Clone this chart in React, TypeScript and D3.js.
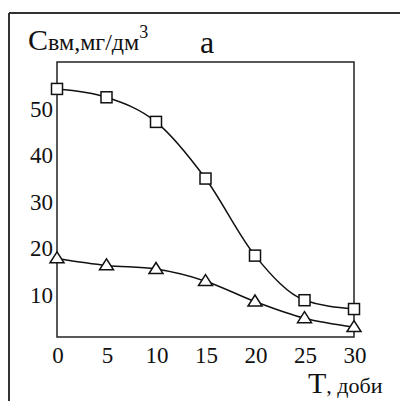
import React from "react";
import * as d3 from "d3";

const days = [0, 5, 10, 15, 20, 25, 30];
const squareSeries = [54.5, 52.7, 47.4, 35.2, 18.6, 9.0, 7.1];
const triangleSeries = [18.0, 16.5, 15.7, 13.1, 8.7, 5.1, 3.2];
const xTicks = [0, 5, 10, 15, 20, 25, 30];
const yTicks = [10, 20, 30, 40, 50];

const FONT = "'Liberation Serif', 'Times New Roman', serif";

export default function App() {
  const left = 57, right = 354, top = 62, bottom = 337;
  const x = d3.scaleLinear().domain([0, 30]).range([left, right]);
  const y = d3.scaleLinear().domain([0, 60.3]).range([342, top]);

  const line = d3
    .line<number>()
    .x((_, i) => x(days[i]))
    .y((d) => y(d))
    .curve(d3.curveMonotoneX);

  const sq = 11;
  const triW = 14, triH = 11;

  return (
    <svg
      width={400}
      height={401}
      style={{ position: "absolute", left: 0, top: 0 }}
    >
      <rect x={0} y={0} width={400} height={401} fill="#fff" />
      {/* outer frame */}
      <line x1={9} y1={13} x2={400} y2={13} stroke="#333" strokeWidth={2} />
      <line x1={9} y1={13} x2={9} y2={401} stroke="#333" strokeWidth={2} />

      {/* plot frame */}
      <rect
        x={left}
        y={top}
        width={right - left}
        height={bottom - top}
        fill="none"
        stroke="#222"
        strokeWidth={1.5}
      />

      {/* y tick labels */}
      {yTicks.map((t) => (
        <text
          key={"y" + t}
          x={53}
          y={y(t) + 7}
          textAnchor="end"
          fontFamily={FONT}
          fontSize={23}
          fill="#111"
        >
          {t}
        </text>
      ))}
      {/* x tick labels */}
      {xTicks.map((t) => (
        <text
          key={"x" + t}
          x={x(t) + 1}
          y={363}
          textAnchor="middle"
          fontFamily={FONT}
          fontSize={23}
          fill="#111"
        >
          {t}
        </text>
      ))}

      {/* lines */}
      <path d={line(squareSeries) || ""} fill="none" stroke="#111" strokeWidth={1.5} />
      <path d={line(triangleSeries) || ""} fill="none" stroke="#111" strokeWidth={1.5} />

      {/* markers */}
      {squareSeries.map((v, i) => (
        <rect
          key={"s" + i}
          x={x(days[i]) - sq / 2}
          y={y(v) - sq / 2}
          width={sq}
          height={sq}
          fill="#fff"
          stroke="#111"
          strokeWidth={1.5}
        />
      ))}
      {triangleSeries.map((v, i) => {
        const cx = x(days[i]);
        const cy = y(v);
        const pts = `${cx},${cy - triH * 0.6} ${cx - triW / 2},${cy + triH * 0.4} ${cx + triW / 2},${cy + triH * 0.4}`;
        return (
          <polygon
            key={"t" + i}
            points={pts}
            fill="#fff"
            stroke="#111"
            strokeWidth={1.5}
          />
        );
      })}

      {/* axis titles */}
      <text x={28} y={50} fontFamily={FONT} fontSize={30} fill="#111">
        С<tspan fontSize={24}>вм,мг/дм</tspan>
        <tspan fontSize={18} dy={-12}>3</tspan>
      </text>
      <text x={200} y={53} fontFamily={FONT} fontSize={32} fill="#111">
        а
      </text>
      <text x={308} y={393} fontFamily={FONT} fontSize={30} fill="#111">
        Т<tspan fontSize={22}>, доби</tspan>
      </text>
    </svg>
  );
}
